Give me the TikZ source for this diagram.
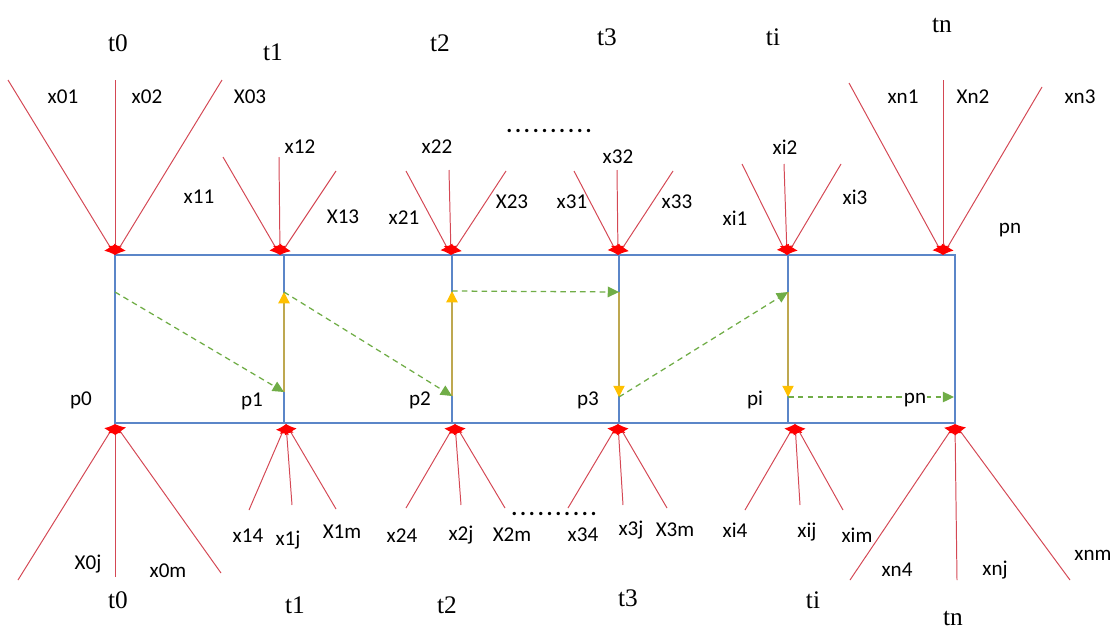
\documentclass[tikz,border=0pt]{standalone}
\usepackage{fontspec}
\setmainfont{Liberation Serif}
\setsansfont{Carlito}
\usepackage{xcolor}
\usetikzlibrary{arrows.meta}
\definecolor{rayred}{RGB}{212,72,84}
\definecolor{boxblue}{RGB}{91,134,200}
\definecolor{pathgreen}{RGB}{112,173,71}
\definecolor{movegold}{RGB}{255,192,0}
\definecolor{moveline}{RGB}{190,168,80}

\begin{document}
\begin{tikzpicture}[x=0.025cm, y=-0.025cm,
  ray/.style={rayred, line width=0.7pt, -{Latex[length=6.5pt, width=10pt, color=red]}},
  move/.style={moveline, line width=0.9pt, -{Triangle[length=8pt, width=8pt, color=movegold]}},
  jump/.style={pathgreen, line width=0.9pt, dash pattern=on 4pt off 3pt, -{Triangle[length=8pt, width=7.5pt]}},
  xlab/.style={font=\sffamily\fontsize{15}{15}\selectfont, inner sep=1pt},
  tlab/.style={font=\fontsize{18}{18}\selectfont, inner sep=1pt},
  dotrow/.style={font=\sffamily\bfseries\fontsize{16}{16}\selectfont, inner sep=0pt}]
  \useasboundingbox (0,0) rectangle (1118,639);

  % Columns of the box
  \coordinate (top0) at (115,255); \coordinate (bot0) at (115,423);
  \coordinate (top1) at (284,255); \coordinate (bot1) at (284,423);
  \coordinate (top2) at (452,255); \coordinate (bot2) at (452,423);
  \coordinate (top3) at (619,255); \coordinate (bot3) at (619,423);
  \coordinate (top4) at (788,255); \coordinate (bot4) at (788,423);
  \coordinate (top5) at (955,255); \coordinate (bot5) at (955,423);

  % Box
  \draw[boxblue, line width=1pt] (top0) rectangle (bot5);
  \draw[boxblue, line width=1pt] (top1) -- (bot1);
  \draw[boxblue, line width=1pt] (top2) -- (bot2);
  \draw[boxblue, line width=1pt] (top3) -- (bot3);
  \draw[boxblue, line width=1pt] (top4) -- (bot4);

  % Meeting points of the rays
  \coordinate (T0) at (115,255); \coordinate (B0) at (115,424);
  \coordinate (T1) at (280,255); \coordinate (B1) at (286,424);
  \coordinate (T2) at (451,255); \coordinate (B2) at (455,424);
  \coordinate (T3) at (618,255); \coordinate (B3) at (618,424);
  \coordinate (Ti) at (787,255); \coordinate (Bi) at (795,424);
  \coordinate (Tn) at (943,255); \coordinate (Bn) at (955,424);

  % Rays from above
  \coordinate (r01) at (8,80);    \coordinate (r02) at (115,80);  \coordinate (r03) at (222,80);
  \coordinate (r11) at (223,157); \coordinate (r12) at (279,157); \coordinate (r13) at (336,171);
  \coordinate (r21) at (406,171); \coordinate (r22) at (449,170); \coordinate (r23) at (506,171);
  \coordinate (r31) at (574,171); \coordinate (r32) at (617,170); \coordinate (r33) at (673,171);
  \coordinate (ri1) at (742,164); \coordinate (ri2) at (784,164); \coordinate (ri3) at (841,164);
  \coordinate (rn1) at (849,83);  \coordinate (rn2) at (943,80);  \coordinate (rn3) at (1042,87);
  \draw[ray] (r01) -- (T0); \draw[ray] (r02) -- (T0); \draw[ray] (r03) -- (T0);
  \draw[ray] (r11) -- (T1); \draw[ray] (r12) -- (T1); \draw[ray] (r13) -- (T1);
  \draw[ray] (r21) -- (T2); \draw[ray] (r22) -- (T2); \draw[ray] (r23) -- (T2);
  \draw[ray] (r31) -- (T3); \draw[ray] (r32) -- (T3); \draw[ray] (r33) -- (T3);
  \draw[ray] (ri1) -- (Ti); \draw[ray] (ri2) -- (Ti); \draw[ray] (ri3) -- (Ti);
  \draw[ray] (rn1) -- (Tn); \draw[ray] (rn2) -- (Tn); \draw[ray] (rn3) -- (Tn);

  % Rays from below
  \coordinate (s04) at (18,580);  \coordinate (s0j) at (115,577); \coordinate (s0m) at (221,573);
  \coordinate (s14) at (249,510); \coordinate (s1j) at (292,505); \coordinate (s1m) at (336,509);
  \coordinate (s24) at (406,508); \coordinate (s2j) at (461,505); \coordinate (s2m) at (505,508);
  \coordinate (s34) at (568,508); \coordinate (s3j) at (623,505); \coordinate (s3m) at (667,508);
  \coordinate (si4) at (745,510); \coordinate (sij) at (800,505); \coordinate (sim) at (843,510);
  \coordinate (sn4) at (850,580); \coordinate (snj) at (957,580); \coordinate (snm) at (1070,580);
  \draw[ray] (s04) -- (B0); \draw[ray] (s0j) -- (B0); \draw[ray] (s0m) -- (B0);
  \draw[ray] (s14) -- (B1); \draw[ray] (s1j) -- (B1); \draw[ray] (s1m) -- (B1);
  \draw[ray] (s24) -- (B2); \draw[ray] (s2j) -- (B2); \draw[ray] (s2m) -- (B2);
  \draw[ray] (s34) -- (B3); \draw[ray] (s3j) -- (B3); \draw[ray] (s3m) -- (B3);
  \draw[ray] (si4) -- (Bi); \draw[ray] (sij) -- (Bi); \draw[ray] (sim) -- (Bi);
  \draw[ray] (sn4) -- (Bn); \draw[ray] (snj) -- (Bn); \draw[ray] (snm) -- (Bn);

  % Upper and lower stops on each column
  \coordinate (u0) at (115,292); \coordinate (l0) at (115,394);
  \coordinate (u1) at (284,292); \coordinate (l1) at (284,392);
  \coordinate (u2) at (452,291); \coordinate (l2) at (452,396);
  \coordinate (u3) at (619,292); \coordinate (l3) at (619,397);
  \coordinate (u4) at (788,292); \coordinate (l4) at (788,397);
  \coordinate (u5) at (954,292); \coordinate (l5) at (954,397);

  % Moves along a column
  \draw[move] (l1) -- (u1);
  \draw[move] (l2) -- (u2);
  \draw[move] (u3) -- (l3);
  \draw[move] (u4) -- (l4);

  % Jumps between columns
  \draw[jump] (u0) -- (l1);
  \draw[jump] (u1) -- (l2);
  \draw[jump] (u2) -- (u3);
  \draw[jump] (l3) -- (u4);
  \draw[jump] (l4) -- (l5);

  % Points
  \node[xlab] (p0) at (81,400) {p0};
  \node[xlab] (p1) at (252,401) {p1};
  \node[xlab] (p2) at (420,400) {p2};
  \node[xlab] (p3) at (588,400) {p3};
  \node[xlab] (pi) at (755,400) {pi};
  \node[xlab, fill=white] (pnm) at (915,400) {pn};
  \node[xlab] (pnt) at (1010,230) {pn};

  % Times
  \node[tlab] (t0u) at (118,43) {t0};
  \node[tlab] (t1u) at (273,52) {t1};
  \node[tlab] (t2u) at (440,43) {t2};
  \node[tlab] (t3u) at (607,37) {t3};
  \node[tlab] (tiu) at (773,37) {ti};
  \node[tlab] (tnu) at (942,25) {tn};
  \node[tlab] (t0d) at (118,600) {t0};
  \node[tlab] (t1d) at (295,605) {t1};
  \node[tlab] (t2d) at (447,605) {t2};
  \node[tlab] (t3d) at (628,598) {t3};
  \node[tlab] (tid) at (813,600) {ti};
  \node[tlab] (tnd) at (953,618) {tn};

  % Upper labels
  \node[xlab] (x01) at (63,97) {x01};
  \node[xlab] (x02) at (147,97) {x02};
  \node[xlab] (x03) at (250,97) {X03};
  \node[xlab] (x11) at (199,197) {x11};
  \node[xlab] (x12) at (300,147) {x12};
  \node[xlab] (x13) at (343,217) {X13};
  \node[xlab] (x21) at (404,218) {x21};
  \node[xlab] (x22) at (437,147) {x22};
  \node[xlab] (x23) at (512,202) {X23};
  \node[xlab] (x31) at (572,202) {x31};
  \node[xlab] (x32) at (618,157) {x32};
  \node[xlab] (x33) at (677,202) {x33};
  \node[xlab] (xi1) at (735,218) {xi1};
  \node[xlab] (xi2) at (785,147) {xi2};
  \node[xlab] (xi3) at (855,197) {xi3};
  \node[xlab] (xn1) at (903,97) {xn1};
  \node[xlab] (xn2) at (973,97) {Xn2};
  \node[xlab] (xn3) at (1080,97) {xn3};
  \node[dotrow] (dotsu) at (549,131) {.\kern2pt.\kern2pt.\kern2pt.\kern2pt.\kern2pt.\kern2pt.\kern2pt.\kern2pt.\kern2pt.};

  % Lower labels
  \node[xlab] (x0j) at (88,564) {X0j};
  \node[xlab] (x0m) at (168,571) {x0m};
  \node[xlab] (x14) at (248,536) {x14};
  \node[xlab] (x1j) at (288,540) {x1j};
  \node[xlab] (x1m) at (342,532) {X1m};
  \node[xlab] (x24) at (402,536) {x24};
  \node[xlab] (x2j) at (461,535) {x2j};
  \node[xlab] (x2m) at (512,535) {X2m};
  \node[xlab] (x34) at (583,535) {x34};
  \node[xlab] (x3j) at (631,530) {x3j};
  \node[xlab] (x3m) at (675,530) {X3m};
  \node[xlab] (xi4) at (735,530) {xi4};
  \node[xlab] (xij) at (807,532) {xij};
  \node[xlab] (xim) at (857,535) {xim};
  \node[xlab] (xn4) at (897,570) {xn4};
  \node[xlab] (xnj) at (995,570) {xnj};
  \node[xlab] (xnm) at (1093,555) {xnm};
  \node[dotrow] (dotsd) at (554,514) {.\kern2pt.\kern2pt.\kern2pt.\kern2pt.\kern2pt.\kern2pt.\kern2pt.\kern2pt.\kern2pt.};
\end{tikzpicture}
\end{document}
